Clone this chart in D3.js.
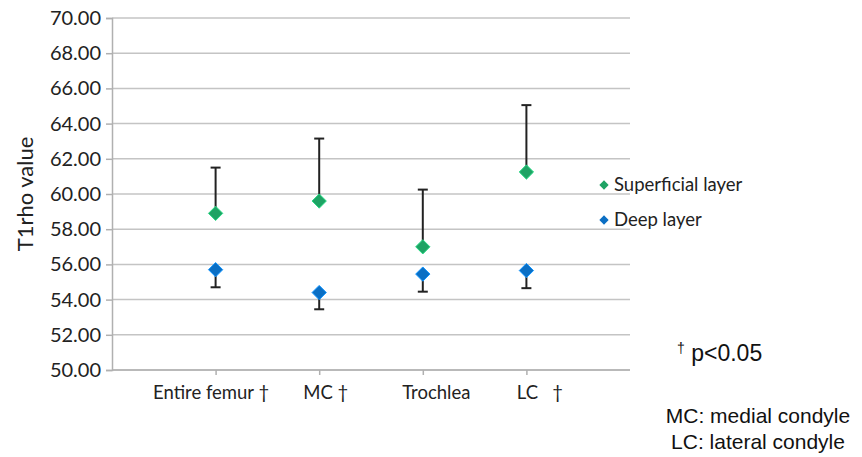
<!DOCTYPE html>
<html><head><meta charset="utf-8">
<script src="https://cdn.jsdelivr.net/npm/d3@7"></script>
<style>body{margin:0;background:#fff}svg{display:block}</style>
</head><body>
<script>
const categories = ["Entire femur", "MC", "Trochlea", "LC"];
const categoryLabels = ["Entire femur \u2020", "MC \u2020", "Trochlea", "LC\u00a0\u00a0\u00a0\u2020"];
const superficial = [58.9, 59.6, 57.0, 61.25];
const superficialUpper = [61.5, 63.15, 60.25, 65.05];
const deep = [55.7, 54.4, 55.45, 55.65];
const deepLower = [54.7, 53.45, 54.45, 54.65];
const yTicks = [50, 52, 54, 56, 58, 60, 62, 64, 66, 68, 70];
const seriesNames = ["Superficial layer", "Deep layer"];

const W = 862, H = 457;
const svg = d3.select("body").append("svg").attr("width", W).attr("height", H);
const pL = 112, pR = 630, pT = 18, pB = 370;
const x = d3.scalePoint().domain(categories).range([pL, pR]).padding(1);
const y = d3.scaleLinear().domain([50, 70]).range([pB, pT]);
const green = "#1ea364", blue = "#0b6fc4";
const font = "Lato, 'Open Sans', sans-serif";

// gridlines
svg.append("g").selectAll("line").data(yTicks).join("line")
  .attr("x1", pL).attr("x2", pR)
  .attr("y1", d => y(d)).attr("y2", d => y(d))
  .attr("stroke", "#c4c4c4").attr("stroke-width", 1.5);

// y axis
const ya = svg.append("g").attr("transform", `translate(${pL},0)`)
  .call(d3.axisLeft(y).tickValues(yTicks).tickFormat(d3.format(".2f")).tickSize(6).tickPadding(5));
ya.select(".domain").attr("stroke", "#b0b0b0").attr("stroke-width", 1.5);
ya.selectAll(".tick line").attr("stroke", "#b0b0b0").attr("stroke-width", 1.5);
ya.selectAll("text").attr("font-family", font).attr("font-size", 20).attr("fill", "#222");

// x axis
const xa = svg.append("g").attr("transform", `translate(0,${pB})`)
  .call(d3.axisBottom(x).tickSize(5).tickPadding(11).tickFormat((d, i) => categoryLabels[i]));
xa.select(".domain").attr("stroke", "#b0b0b0").attr("stroke-width", 1.5)
  .attr("d", `M${pL},0H${pR}`);
xa.selectAll(".tick line").attr("stroke", "#b0b0b0").attr("stroke-width", 1.5);
const labelShift = [-5, 6, 13, 13];
xa.selectAll("text").attr("font-family", font).attr("font-size", 18.5).attr("fill", "#222")
  .attr("dx", (d, i) => labelShift[i]);

// y title
svg.append("text").attr("transform", `translate(33,194) rotate(-90)`)
  .attr("text-anchor", "middle").attr("font-family", font).attr("font-size", 22).attr("fill", "#222")
  .text("T1rho value");

// error bars
const eb = svg.append("g").attr("stroke", "#222").attr("stroke-width", 2);
categories.forEach((c, i) => {
  const cx = x(c);
  eb.append("line").attr("x1", cx).attr("x2", cx).attr("y1", y(superficial[i])).attr("y2", y(superficialUpper[i]));
  eb.append("line").attr("x1", cx - 5).attr("x2", cx + 5).attr("y1", y(superficialUpper[i])).attr("y2", y(superficialUpper[i]));
  eb.append("line").attr("x1", cx).attr("x2", cx).attr("y1", y(deep[i])).attr("y2", y(deepLower[i]));
  eb.append("line").attr("x1", cx - 5).attr("x2", cx + 5).attr("y1", y(deepLower[i])).attr("y2", y(deepLower[i]));
});

const diamond = d3.symbol().type(d3.symbolDiamond2).size(130);
function drawMarkers(vals, color) {
  svg.append("g").selectAll("path").data(vals).join("path")
    .attr("d", diamond)
    .attr("transform", (d, i) => `translate(${x(categories[i])},${y(d)})`)
    .attr("fill", color).attr("stroke", d3.color(color).brighter(0.8)).attr("stroke-width", 1);
}
drawMarkers(superficial, green);
drawMarkers(deep, blue);

// legend
const lg = svg.append("g");
[green, blue].forEach((c, i) => {
  const ly = y(60) - 9 + i * 35;
  lg.append("path").attr("d", d3.symbol().type(d3.symbolDiamond2).size(55))
    .attr("transform", `translate(604,${ly})`).attr("fill", c);
  lg.append("text").attr("x", 614).attr("y", ly).attr("dy", "0.35em")
    .attr("font-family", font).attr("font-size", 18.5).attr("fill", "#222").text(seriesNames[i]);
});

// annotations
const af = "'Liberation Sans', Arial, sans-serif";
const p = svg.append("text").attr("x", 677).attr("y", 361).attr("font-family", af).attr("font-size", 23).attr("fill", "#111");
p.append("tspan").attr("font-size", 14).attr("dy", -8).text("\u2020");
p.append("tspan").attr("dy", 8).text(" p<0.05");
svg.append("text").attr("x", 758).attr("y", 423).attr("text-anchor", "middle").attr("font-family", af).attr("font-size", 21).attr("fill", "#111").text("MC: medial condyle");
svg.append("text").attr("x", 758).attr("y", 449).attr("text-anchor", "middle").attr("font-family", af).attr("font-size", 21).attr("fill", "#111").text("LC: lateral condyle");
</script>
</body></html>
